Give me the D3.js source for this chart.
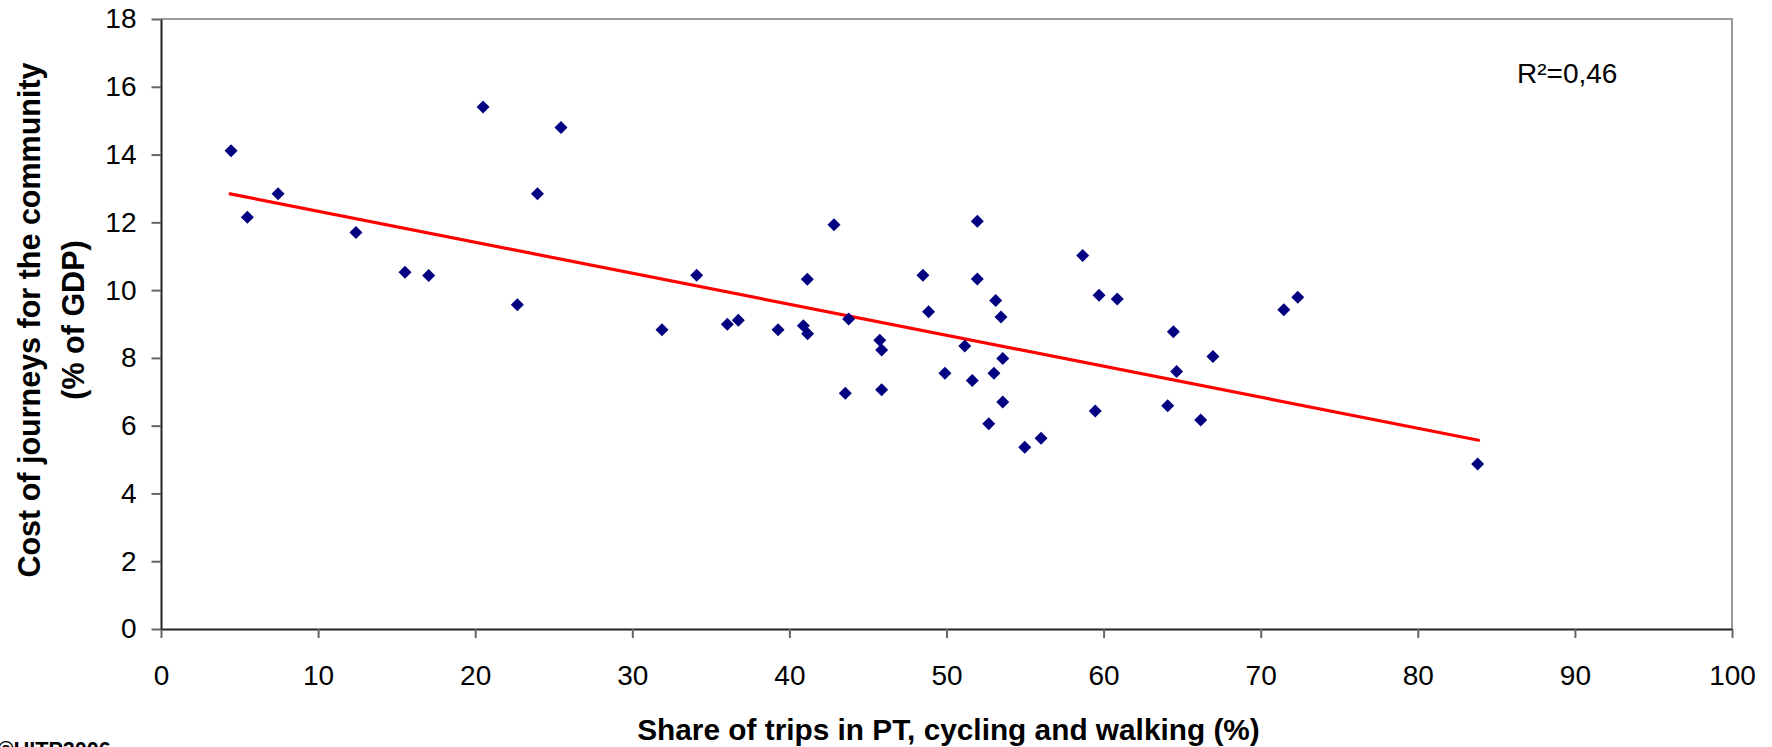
<!DOCTYPE html>
<html>
<head>
<meta charset="utf-8">
<script src="https://cdn.jsdelivr.net/npm/d3@7"></script>
<style>
	html, body { margin: 0; padding: 0; background: #fff; overflow: hidden; }
	text { font-family: "Liberation Sans", Arial, sans-serif; }
</style>
</head>
<body>
<div id="chart"></div>
<script>
// share of trips in PT, cycling and walking (%)
const shareX = [
	4.46, 5.5, 7.45, 12.41, 15.53, 17.04, 20.5, 22.68, 23.96, 25.46,
	31.89, 34.1, 36.05, 36.75, 39.28, 40.89, 41.16, 41.14, 42.84, 43.56,
	43.77, 45.75, 45.87, 45.87, 48.5, 48.86, 49.9, 51.16, 51.64, 51.96,
	51.96, 52.69, 53.02, 53.13, 53.47, 53.58, 53.58, 54.98, 56.02, 58.67,
	59.71, 59.47, 60.87, 64.08, 64.44, 64.65, 66.18, 66.96, 71.47, 72.36,
	83.81,
];
// cost of journeys for the community (% of GDP)
const costY = [
	14.11, 12.15, 12.84, 11.7, 10.53, 10.43, 15.4, 9.57, 12.84, 14.8,
	8.83, 10.44, 8.99, 9.11, 8.83, 8.95, 8.71, 10.32, 11.93, 6.96,
	9.15, 8.52, 8.23, 7.06, 10.44, 9.36, 7.55, 8.35, 7.33, 12.03,
	10.33, 6.06, 7.55, 9.69, 9.21, 7.98, 6.7, 5.36, 5.63, 11.02,
	9.85, 6.43, 9.74, 6.59, 8.77, 7.6, 6.17, 8.04, 9.42, 9.79,
	4.87,
];
// trend line ends
const trendX = [4.4, 83.87];
const trendY = [12.84, 5.57];
const xTicks = [0, 10, 20, 30, 40, 50, 60, 70, 80, 90, 100];
const yTicks = [0, 2, 4, 6, 8, 10, 12, 14, 16, 18];
const rSquared = "R²=0,46";

const size = { w: 1772, h: 747 };
const plot = { l: 161, r: 1732, t: 19, b: 629 };

const svg = d3
	.select("#chart")
	.append("svg")
	.attr("width", size.w)
	.attr("height", size.h);

const x = d3.scaleLinear().domain([0, 100]).range([plot.l, plot.r]);
const y = d3.scaleLinear().domain([0, 18]).range([plot.b, plot.t]);

// grey frame on top and right
svg.append("path")
	.attr("d", `M${plot.l},${plot.t}H${plot.r}V${plot.b}`)
	.attr("fill", "none")
	.attr("stroke", "#9a9a9a")
	.attr("stroke-width", 2);

const xAxis = svg
	.append("g")
	.attr("transform", `translate(0, ${plot.b})`)
	.call(
		d3.axisBottom(x).tickValues(xTicks).tickSize(9).tickPadding(27).tickSizeOuter(0)
	);
const yAxis = svg
	.append("g")
	.attr("transform", `translate(${plot.l}, 0)`)
	.call(
		d3.axisLeft(y).tickValues(yTicks).tickSize(9.5).tickPadding(15).tickSizeOuter(0)
	);

[xAxis, yAxis].forEach((g) => {
	g.select(".domain").attr("stroke", "#222").attr("stroke-width", 2);
	g.selectAll(".tick line").attr("stroke", "#666").attr("stroke-width", 2);
	g.selectAll(".tick text")
		.attr("fill", "#000")
		.style("font-size", "28px")
		.style("font-family", '"Liberation Sans", Arial, sans-serif');
});

// trend line
const pts = trendX.map((d, i) => [d, trendY[i]]);
svg.append("path")
	.datum(pts)
	.attr("fill", "none")
	.attr("stroke", "#ff0000")
	.attr("stroke-width", 3.2)
	.attr("stroke-linecap", "round")
	.attr("d", d3.line().x((d) => x(d[0])).y((d) => y(d[1])));

// data points as diamonds
const r = 6.5;
svg.append("g")
	.selectAll("path")
	.data(shareX.map((d, i) => ({ share: d, cost: costY[i] })))
	.join("path")
	.attr("transform", (d) => `translate(${x(d.share)}, ${y(d.cost)})`)
	.attr("d", `M0,${-r}L${r},0L0,${r}L${-r},0Z`)
	.attr("fill", "#000080");

svg.append("text")
	.attr("x", 1517)
	.attr("y", 83)
	.style("font-size", "28px")
	.text(rSquared);

svg.append("text")
	.attr("x", (plot.l + plot.r) / 2 + 2)
	.attr("y", 740)
	.attr("text-anchor", "middle")
	.style("font-size", "29.8px")
	.style("font-weight", "bold")
	.text("Share of trips in PT, cycling and walking (%)");

const yTitle = svg
	.append("text")
	.attr("transform", `translate(0, ${(plot.t + plot.b) / 2 - 4}) rotate(-90)`)
	.attr("text-anchor", "middle")
	.style("font-size", "30.5px")
	.style("font-weight", "bold");
yTitle.append("tspan").attr("x", 0).attr("y", 40).text("Cost of journeys for the community");
yTitle.append("tspan").attr("x", 0).attr("y", 84).text("(% of GDP)");

svg.append("text")
	.attr("x", -2)
	.attr("y", 757)
	.style("font-size", "21.5px")
	.style("font-weight", "bold")
	.text("©UITP2006");
</script>
</body>
</html>
